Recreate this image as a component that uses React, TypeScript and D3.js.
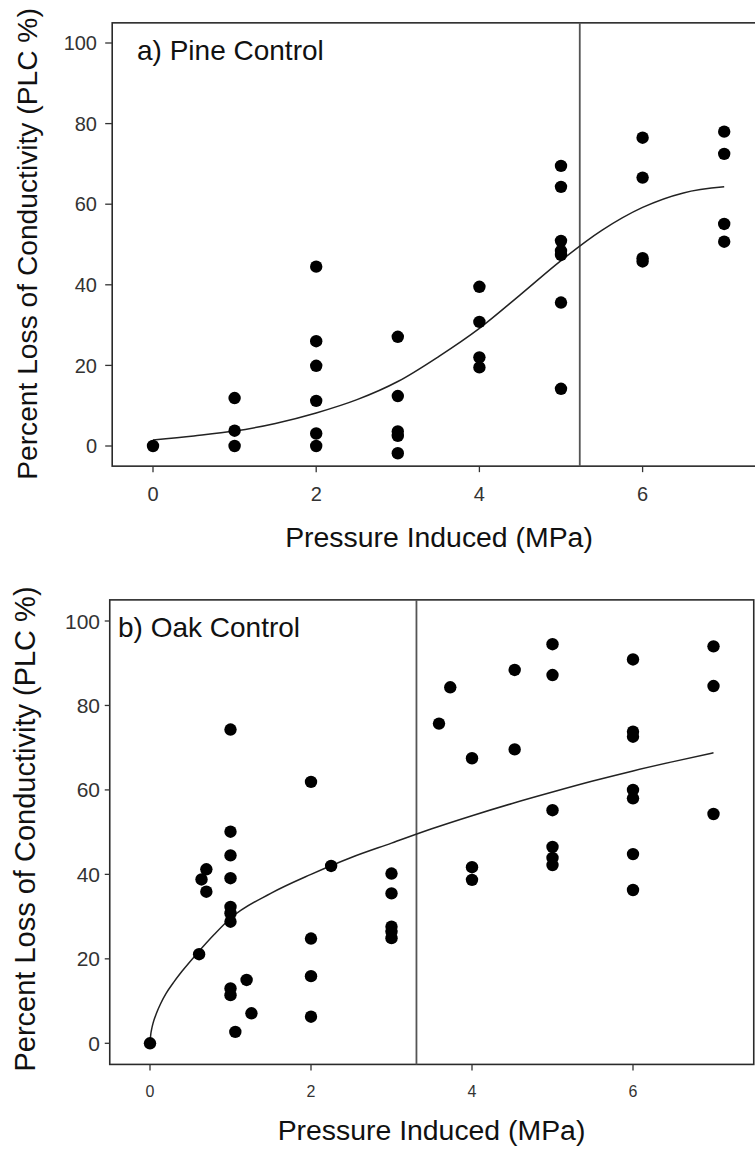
import React from "react";
import * as d3 from "d3";

// ---- Panel a) Pine Control ----
const pineX = [0, 1, 1, 1, 2, 2, 2, 2, 2, 2, 3, 3, 3, 3, 3, 4, 4, 4, 4, 5, 5, 5, 5, 5, 5, 5, 6, 6, 6, 6, 7, 7, 7, 7];
const pineY = [0, 11.9, 3.8, 0, 44.5, 26, 19.9, 11.2, 3.1, 0, 27.1, 12.4, 3.6, 2.5, -1.8, 39.5, 30.8, 22, 19.5, 69.5, 64.3, 50.9, 48.4, 47.4, 35.6, 14.2, 76.5, 66.6, 46.6, 45.8, 78, 72.5, 55.1, 50.7];
const pineFitX = [0, 0.5, 1, 1.5, 2, 2.5, 3, 3.5, 4, 4.5, 5, 5.5, 6, 6.5, 7];
const pineFitY = [1.5, 2.5, 3.7, 5.6, 8.2, 11.5, 16, 22.2, 29.2, 37.5, 46, 53.5, 59.2, 62.8, 64.3];
const pineP50 = 5.23;

// ---- Panel b) Oak Control ----
const oakX = [0, 0.61, 0.64, 0.7, 0.7, 1, 1, 1, 1, 1, 1, 1, 1, 1, 1.06, 1.2, 1.26, 2, 2, 2, 2, 2.25, 3, 3, 3, 3, 3, 3.59, 3.73, 4, 4, 4, 4.53, 4.53, 5, 5, 5, 5, 5, 5, 6, 6, 6, 6, 6, 6, 6, 7, 7, 7];
const oakY = [0, 21.1, 38.8, 41.2, 35.9, 74.3, 50.1, 44.5, 39.1, 32.3, 30.8, 28.8, 13, 11.4, 2.7, 15, 7.1, 61.9, 24.8, 15.9, 6.3, 42, 40.2, 35.5, 27.6, 26.4, 24.9, 75.7, 84.3, 67.5, 41.7, 38.7, 88.4, 69.6, 94.5, 87.2, 55.2, 46.5, 43.9, 42.2, 90.9, 73.8, 72.6, 60, 58, 44.8, 36.3, 94, 84.6, 54.3];
const oakFitX = [0, 0.01, 0.02, 0.04, 0.08, 0.13, 0.2, 0.3, 0.4, 0.6, 0.8, 1, 1.5, 2, 2.5, 3, 3.5, 4, 4.5, 5, 5.5, 6, 6.5, 7];
const oakFitY = [0, 2.2, 3.3, 4.9, 7.1, 9.3, 11.8, 14.6, 17.1, 21.6, 25.8, 29.6, 35.5, 40, 44, 47.4, 50.8, 53.9, 56.8, 59.5, 62.1, 64.5, 66.7, 68.8];
const oakP50 = 3.31;

const xTicks = [0, 2, 4, 6];
const yTicks = [0, 20, 40, 60, 80, 100];

const xLabel = "Pressure Induced (MPa)";
const yLabel = "Percent Loss of Conductivity (PLC %)";

const FONT = "'Liberation Sans', Arial, sans-serif";

type PanelProps = {
  title: string;
  xs: number[];
  ys: number[];
  fitX: number[];
  fitY: number[];
  p50: number;
  zeroX: number;
  unitX: number;
  zeroY: number;
  hundredY: number;
  yTickFont: number;
  xTickFont: number;
  yTickEnd: number;
  yTickLen: number;
  xTickBase: number;
  titleX: number;
  titleY: number;
  xLabelX: number;
  xLabelY: number;
  yLabelX: number;
  yLabelY: number;
  yLabelFont: number;
};

function Panel(p: PanelProps) {
  const x = d3.scaleLinear().domain([-0.5, 7.5]).range([p.zeroX - 0.5 * p.unitX, p.zeroX + 7.5 * p.unitX]);
  const y = d3.scaleLinear().domain([0, 100]).range([p.zeroY, p.hundredY]);
  const [x0, x1] = [x(-0.5), x(7.5)];
  const [yTop, yBot] = [y(105), y(-5)];
  const pts = p.fitX.map((v, i) => [v, p.fitY[i]] as [number, number]);
  const line = d3
    .line<[number, number]>()
    .x((d) => x(d[0]))
    .y((d) => y(d[1]))
    .curve(d3.curveMonotoneX);
  return (
    <g>
      <rect x={x0} y={yTop} width={x1 - x0} height={yBot - yTop} fill="none" stroke="#2a2a2a" strokeWidth={1.6} />
      <line x1={x(p.p50)} x2={x(p.p50)} y1={yTop} y2={yBot} stroke="#555" strokeWidth={1.8} />
      {yTicks.map((t) => (
        <g key={"y" + t}>
          <line x1={x0 - p.yTickLen} x2={x0} y1={y(t)} y2={y(t)} stroke="#333" strokeWidth={1.3} />
          <text x={p.yTickEnd} y={y(t)} dy="0.36em" textAnchor="end" fontSize={p.yTickFont} fill="#333" fontFamily={FONT}>
            {t}
          </text>
        </g>
      ))}
      {xTicks.map((t) => (
        <g key={"x" + t}>
          <line x1={x(t)} x2={x(t)} y1={yBot} y2={yBot + 6} stroke="#333" strokeWidth={1.3} />
          <text x={x(t)} y={p.xTickBase} textAnchor="middle" fontSize={p.xTickFont} fill="#333" fontFamily={FONT}>
            {t}
          </text>
        </g>
      ))}
      <path d={line(pts) || ""} fill="none" stroke="#222" strokeWidth={1.5} />
      {p.xs.map((v, i) => (
        <circle key={i} cx={x(v)} cy={y(p.ys[i])} r={6.2} fill="#000" />
      ))}
      <text x={p.titleX} y={p.titleY} fontSize={28} fill="#111" fontFamily={FONT}>
        {p.title}
      </text>
      <text x={p.xLabelX} y={p.xLabelY} textAnchor="middle" fontSize={28.4} fill="#111" fontFamily={FONT}>
        {xLabel}
      </text>
      <text
        transform={`translate(${p.yLabelX},${p.yLabelY}) rotate(-90)`}
        textAnchor="middle"
        fontSize={p.yLabelFont}
        fill="#111"
        fontFamily={FONT}
      >
        {yLabel}
      </text>
    </g>
  );
}

export default function App() {
  return (
    <svg width={755} height={1150} style={{ position: "absolute", left: 0, top: 0, background: "#fff" }}>
      <rect x={0} y={0} width={755} height={1150} fill="#fff" />
      <Panel
        title="a) Pine Control"
        xs={pineX}
        ys={pineY}
        fitX={pineFitX}
        fitY={pineFitY}
        p50={pineP50}
        zeroX={153}
        unitX={81.6}
        zeroY={446}
        hundredY={43}
        yTickFont={20}
        xTickFont={20}
        yTickEnd={97}
        yTickLen={7}
        xTickBase={501}
        titleX={137}
        titleY={60}
        xLabelX={439}
        xLabelY={547}
        yLabelX={37}
        yLabelY={244}
        yLabelFont={28.2}
      />
      <Panel
        title="b) Oak Control"
        xs={oakX}
        ys={oakY}
        fitX={oakFitX}
        fitY={oakFitY}
        p50={oakP50}
        zeroX={150}
        unitX={80.5}
        zeroY={1043.3}
        hundredY={621}
        yTickFont={21}
        xTickFont={16}
        yTickEnd={100}
        yTickLen={5}
        xTickBase={1097}
        titleX={118}
        titleY={637}
        xLabelX={431.5}
        xLabelY={1140}
        yLabelX={35}
        yLabelY={829}
        yLabelFont={29}
      />
    </svg>
  );
}
